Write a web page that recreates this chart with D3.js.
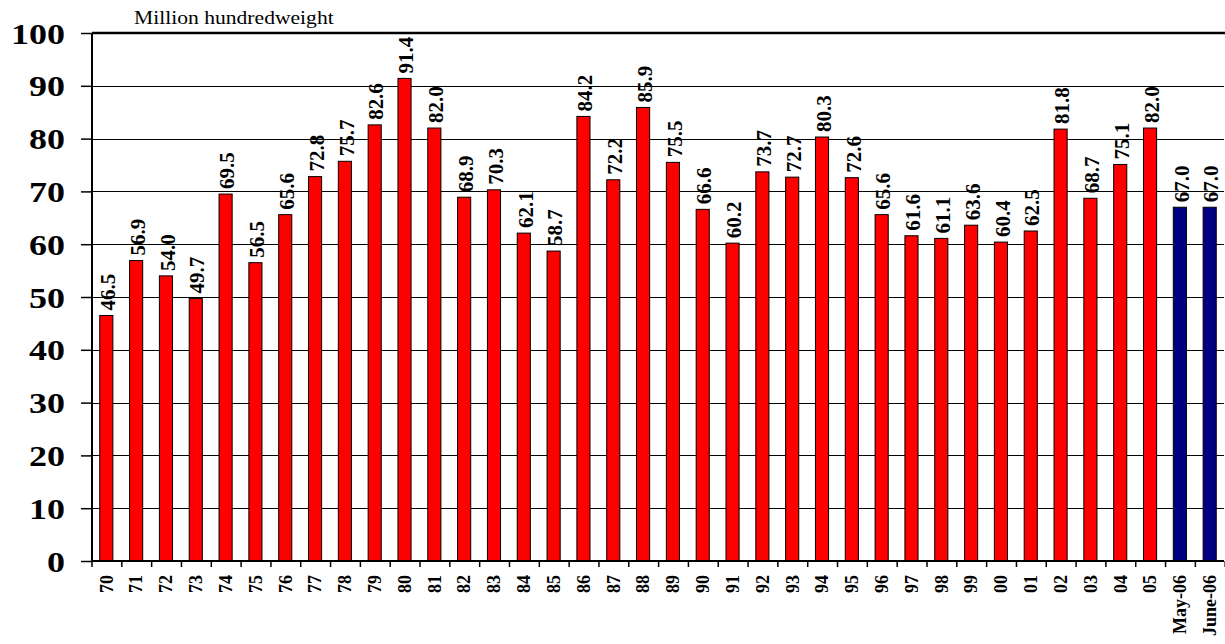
<!DOCTYPE html>
<html lang="en">
<meta charset="utf-8">
<style>
body { margin: 0; background: #fff; }
svg text { font-family: "Liberation Serif", serif; fill: #000; }
.bar { stroke: #000; stroke-width: 1; }
.grid line { stroke: #000; stroke-width: 1; shape-rendering: crispEdges; }
</style>
<body>
<svg width="1225" height="644"></svg>
<script src="https://d3js.org/d3.v7.min.js"></script>
<script>

var categories = ["70", "71", "72", "73", "74", "75", "76", "77", "78", "79",
                  "80", "81", "82", "83", "84", "85", "86", "87", "88", "89",
                  "90", "91", "92", "93", "94", "95", "96", "97", "98", "99",
                  "00", "01", "02", "03", "04", "05", "May-06", "June-06"];

var values = [46.5, 56.9, 54.0, 49.7, 69.5, 56.5, 65.6, 72.8, 75.7, 82.6,
              91.4, 82.0, 68.9, 70.3, 62.1, 58.7, 84.2, 72.2, 85.9, 75.5,
              66.6, 60.2, 73.7, 72.7, 80.3, 72.6, 65.6, 61.6, 61.1, 63.6,
              60.4, 62.5, 81.8, 68.7, 75.1, 82.0, 67.0, 67.0];

// last two are the monthly forecasts
var forecast = ["May-06", "June-06"];

var yTicks = [0, 10, 20, 30, 40, 50, 60, 70, 80, 90, 100];

var serif = "'Liberation Serif', serif";

var svg = d3.select("svg");

// note: "top" is taken by window.top, hence the prefix
var plotLeft = 92, plotRight = 1224, plotTop = 33, plotBottom = 561;

var x = d3.scaleBand()
    .domain(categories)
    .range([plotLeft, plotRight])
    .paddingInner(0.56)
    .paddingOuter(0.26);

var y = d3.scaleLinear()
    .domain([0, 100])
    .range([plotBottom, plotTop]);

// gridlines
svg.append("g")
    .attr("class", "grid")
  .selectAll("line")
  .data(yTicks.filter(function(d) { return d > 0 && d < 100; }))
  .enter().append("line")
    .attr("x1", plotLeft)
    .attr("x2", plotRight)
    .attr("y1", function(d) { return Math.round(y(d)) + 0.5; })
    .attr("y2", function(d) { return Math.round(y(d)) + 0.5; });

// top border, thicker
svg.append("line")
    .attr("x1", plotLeft).attr("x2", 1225)
    .attr("y1", y(100)).attr("y2", y(100))
    .attr("stroke", "#000").attr("stroke-width", 2.5);

// bars
svg.append("g")
  .selectAll("rect")
  .data(values)
  .enter().append("rect")
    .attr("class", "bar")
    .attr("x", function(d, i) { return x(categories[i]); })
    .attr("width", x.bandwidth())
    .attr("y", function(d) { return y(d); })
    .attr("height", function(d) { return y(0) - y(d); })
    .attr("fill", function(d, i) { return forecast.indexOf(categories[i]) >= 0 ? "#000080" : "#ff0000"; });

// value labels
svg.append("g")
  .selectAll("text")
  .data(values)
  .enter().append("text")
    .attr("transform", function(d, i) {
      return "translate(" + (x(categories[i]) + x.bandwidth() / 2 + 1) + "," + (y(d) - 5) + ") rotate(-90) scale(1.05,1.1)";
    })
    .attr("dy", "0.35em")
    .style("font-family", serif)
    .style("font-size", "20px")
    .style("font-weight", "bold")
    .text(function(d) { return d.toFixed(1); });

// y axis
var yAxis = svg.append("g")
    .attr("transform", "translate(" + plotLeft + ",0)")
    .call(d3.axisLeft(y).tickValues(yTicks).tickSize(11).tickPadding(0).tickFormat(d3.format("d")));

yAxis.attr("font-family", null);
yAxis.select(".domain").attr("stroke", "#000").attr("stroke-width", 2).attr("d", "M0," + plotTop + "V" + plotBottom);
yAxis.selectAll(".tick line").attr("stroke", "#000").attr("stroke-width", 1.5);
yAxis.selectAll(".tick text")
    .attr("x", null).attr("dy", null)
    .attr("text-anchor", "end")
    .style("font-family", serif)
    .style("font-size", "30px")
    .style("font-weight", "bold")
    .attr("transform", "translate(-27,10) scale(1.2,1)");

// x axis
var xAxis = svg.append("g")
    .attr("transform", "translate(0," + plotBottom + ")");

xAxis.append("line")
    .attr("x1", plotLeft).attr("x2", plotRight)
    .attr("stroke", "#000").attr("stroke-width", 2);

xAxis.selectAll(".xt")
  .data(categories.concat([null]))
  .enter().append("line")
    .attr("x1", function(d, i) { return plotLeft + i * x.step(); })
    .attr("x2", function(d, i) { return plotLeft + i * x.step(); })
    .attr("y1", 0).attr("y2", 6)
    .attr("stroke", "#000").attr("stroke-width", 1.5);

xAxis.selectAll("text")
  .data(categories)
  .enter().append("text")
    .attr("transform", function(d) {
      return "translate(" + (x(d) + x.bandwidth() / 2) + ",14) rotate(-90)";
    })
    .attr("dy", "0.35em")
    .attr("text-anchor", "end")
    .style("font-family", serif)
    .style("font-size", "18px")
    .style("font-weight", "bold")
    .text(function(d) { return d; });

svg.append("text")
    .attr("transform", "translate(134,24) scale(1.2,1)")
    .style("font-family", serif)
    .style("font-size", "18px")
    .text("Million hundredweight");

</script>
</body>
</html>
